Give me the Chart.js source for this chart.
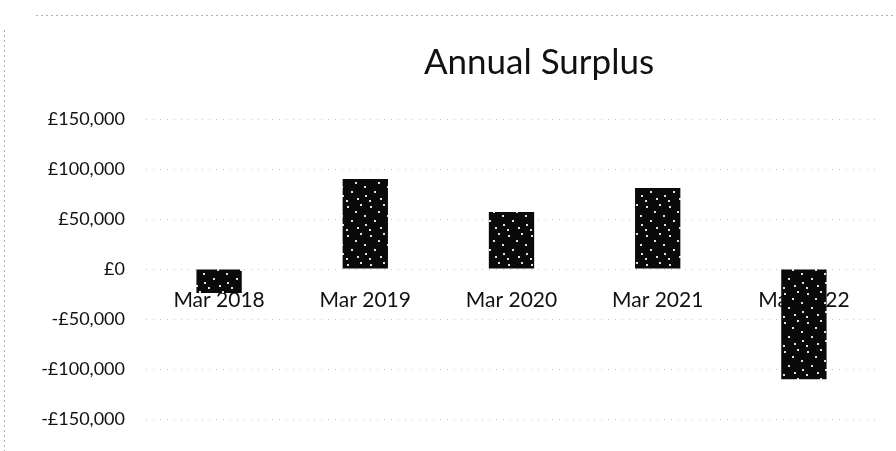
<!DOCTYPE html>
<html>
<head>
<meta charset="utf-8">
<script src="https://cdn.jsdelivr.net/npm/chart.js@4.4.1/dist/chart.umd.min.js"></script>
<style>
  html, body { margin: 0; padding: 0; background: #fff; }
  #wrap { width: 896px; height: 451px; position: relative; }
  #surplus { display: block; }
</style>
</head>
<body>
<div id="wrap"><canvas id="surplus"></canvas></div>
<script>
// Year-end surplus (deficit) figures
const years = ['Mar 2018', 'Mar 2019', 'Mar 2020', 'Mar 2021', 'Mar 2022'];
const surplus = [-24000, 90000, 57000, 81000, -110000];
const axisMin = -150000;
const axisMax = 150000;
const axisStep = 50000;

const FONT = 'Lato, "Open Sans", sans-serif';

function poundLabel(v) {
    if (v === 0) return '£0';
    const s = '£' + Math.abs(v).toLocaleString('en-GB');
    return v < 0 ? '-' + s : s;
}

// Dark fill with a light speckle, like a photocopied solid
function speckleFill() {
    const tile = document.createElement('canvas');
    tile.width = 23;
    tile.height = 29;
    const t = tile.getContext('2d');
    t.fillStyle = '#0a0a0a';
    t.fillRect(0, 0, 23, 29);
    t.fillStyle = '#e0e0e0';
    [[2, 3], [15, 1], [19, 12], [6, 17], [12, 24], [1, 26], [10, 8], [20, 21]].forEach(function(p) {
        t.fillRect(p[0], p[1], 2, 2);
    });
    return document.getElementById('surplus').getContext('2d').createPattern(tile, 'repeat');
}

// Category names hang just under the zero line; bars are painted over them
const zeroLabels = {
    id: 'zeroLabels',
    beforeDatasetsDraw: function(chart) {
        const c = chart.ctx;
        const x = chart.scales.x;
        const y0 = chart.scales.y.getPixelForValue(0);
        c.save();
        c.fillStyle = '#111';
        c.font = '21px ' + FONT;
        c.textAlign = 'center';
        c.textBaseline = 'top';
        years.forEach(function(name, i) {
            c.fillText(name, x.getPixelForValue(i), y0 + 21);
        });
        c.restore();
    }
};

// Title sits right of centre, plus the faint dotted frame edges
const decorPlugin = {
    id: 'decor',
    beforeDraw: function(chart) {
        const c = chart.ctx;
        c.save();
        c.strokeStyle = '#b0b0b0';
        c.lineWidth = 1;
        c.setLineDash([2, 3]);
        c.beginPath();
        c.moveTo(36, 15.5);
        c.lineTo(chart.width, 15.5);
        c.moveTo(4.5, 30);
        c.lineTo(4.5, chart.height);
        c.stroke();
        c.restore();
    },
    afterDraw: function(chart) {
        const c = chart.ctx;
        c.save();
        c.fillStyle = '#111';
        c.font = '35px ' + FONT;
        c.textAlign = 'center';
        c.textBaseline = 'middle';
        c.fillText('Annual Surplus', 539, 63);
        c.restore();
    }
};

new Chart(document.getElementById('surplus'), {
    type: 'bar',
    data: {
        labels: years,
        datasets: [{
            label: 'Surplus',
            data: surplus,
            backgroundColor: speckleFill(),
            borderWidth: 0,
            categoryPercentage: 1,
            barPercentage: 0.31
        }]
    },
    options: {
        responsive: true,
        maintainAspectRatio: false,
        animation: false,
        layout: {
            padding: { top: 119, bottom: 22, right: 19, left: 0 }
        },
        plugins: {
            legend: { display: false },
            title: { display: false },
            tooltip: { enabled: false }
        },
        scales: {
            x: {
                display: false
            },
            y: {
                min: axisMin,
                max: axisMax,
                afterFit: function(scale) { scale.width = 146; },
                grid: {
                    color: '#c4c4c4',
                    lineWidth: 1,
                    drawTicks: false
                },
                border: { display: false, dash: [1, 6] },
                ticks: {
                    stepSize: axisStep,
                    color: '#111',
                    padding: 21,
                    font: { family: FONT, size: 18 },
                    callback: poundLabel
                }
            }
        }
    },
    plugins: [zeroLabels, decorPlugin]
});
</script>
</body>
</html>
